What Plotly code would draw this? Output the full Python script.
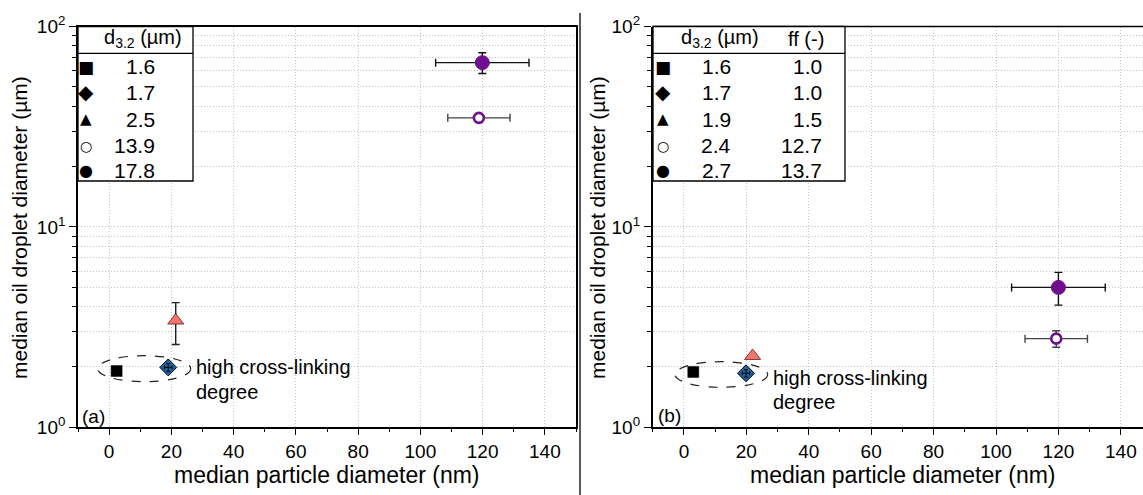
import plotly.graph_objects as go

W, H = 1143, 495

# ---------------- data ----------------
names = ["square", "diamond", "triangle", "open circle", "filled circle"]

# panel (a)
a_x = [2.4, 19.0, 21.4, 118.8, 119.9]
a_y = [1.91, 1.99, 3.41, 35.0, 66.0]
a_xerr = [0.0, 1.2, 0.0, 10.0, 15.0]
a_yerr_plus = [0.0, 0.09, 0.78, 1.6, 8.0]
a_yerr_minus = [0.0, 0.09, 0.82, 1.6, 7.7]
a_d32 = ["1.6", "1.7", "2.5", "13.9", "17.8"]

# panel (b)
b_x = [3.0, 19.9, 22.0, 119.3, 120.0]
b_y = [1.89, 1.86, 2.27, 2.77, 4.99]
b_xerr = [0.0, 1.2, 0.0, 10.0, 15.0]
b_yerr_plus = [0.0, 0.08, 0.0, 0.26, 0.94]
b_yerr_minus = [0.0, 0.08, 0.0, 0.26, 0.92]
b_d32 = ["1.6", "1.7", "1.9", "2.4", "2.7"]
b_ff = ["1.0", "1.0", "1.5", "12.7", "13.7"]

x_ticks = [0, 20, 40, 60, 80, 100, 120, 140]
x_minor = [-10, 10, 30, 50, 70, 90, 110, 130, 150]
y_ticks = [1, 10, 100]
y_ticktext = ["10<sup>0</sup>", "10<sup>1</sup>", "10<sup>2</sup>"]
y_minor = [v * m for m in (1, 10) for v in range(2, 10)]

# ---------------- styles ----------------
PURPLE = "#6e0f8e"
SALMON = "#f4756b"
BLUE = "#1b66a2"
FONT = "Liberation Sans, Arial, sans-serif"
GRID = "#c4c4c4"

styles = [
    dict(symbol="square", size=11, color="black", line=dict(color="black", width=0.5)),
    dict(symbol="diamond", size=13, color=BLUE, line=dict(color="black", width=1)),
    dict(symbol="triangle-up", size=14, color=SALMON, line=dict(color="#5a1a14", width=0.8)),
    dict(symbol="circle", size=10, color="white", line=dict(color=PURPLE, width=2.6)),
    dict(symbol="circle", size=14, color=PURPLE, line=dict(color=PURPLE, width=1)),
]
err_colors = ["black", "black", "#222222", "#444444", "#111111"]


def px(x):
    return x / W


def py(y):
    return 1 - y / H


fig = go.Figure()


def add_panel(xs, ys, xerr, ypl, ymi, xa, ya):
    for i in range(len(xs)):
        ec = err_colors[i]
        has_x = xerr[i] > 0
        has_y = ypl[i] > 0 or ymi[i] > 0
        overlay = (i == 1)  # diamond: error cross drawn over marker
        fig.add_trace(go.Scatter(
            x=[xs[i]], y=[ys[i]], mode="markers", name=names[i],
            marker=styles[i], xaxis=xa, yaxis=ya, showlegend=False,
            error_x=dict(type="data", array=[xerr[i]], visible=has_x and not overlay,
                         color=ec, thickness=1.4, width=4),
            error_y=dict(type="data", symmetric=False, array=[ypl[i]], arrayminus=[ymi[i]],
                         visible=has_y and not overlay, color=ec, thickness=1.4, width=4),
        ))
        if overlay:
            fig.add_trace(go.Scatter(
                x=[xs[i]], y=[ys[i]], mode="markers", marker=dict(size=1, opacity=0),
                xaxis=xa, yaxis=ya, showlegend=False, hoverinfo="skip",
                error_x=dict(type="data", array=[xerr[i]], color="black", thickness=1, width=2),
                error_y=dict(type="data", symmetric=False, array=[ypl[i]], arrayminus=[ymi[i]],
                             color="black", thickness=1, width=2),
            ))


add_panel(a_x, a_y, a_xerr, a_yerr_plus, a_yerr_minus, "x", "y")
add_panel(b_x, b_y, b_xerr, b_yerr_plus, b_yerr_minus, "x2", "y2")

Y_TOP, Y_BOT = 26.5, 427.3
xa_common = dict(
    tickmode="array", tickvals=x_ticks, ticks="outside", ticklen=6, tickwidth=1.3,
    tickcolor="black", showline=True, linecolor="black", linewidth=1.6,
    showgrid=True, gridcolor=GRID, griddash="1px,2px", gridwidth=1,
    zeroline=False, tickfont=dict(family=FONT, size=19, color="black"),
    minor=dict(tickmode="array", tickvals=x_minor, ticks="outside", ticklen=3,
               tickwidth=1.2, tickcolor="black", showgrid=False),
    automargin=False, fixedrange=True,
)
ya_common = dict(
    type="log", range=[0, 2], tickmode="array", tickvals=y_ticks, ticktext=y_ticktext,
    ticks="outside", ticklen=7, tickwidth=1.3, tickcolor="black",
    showline=True, linecolor="black", linewidth=1.6,
    showgrid=True, gridcolor=GRID, griddash="1px,2px", gridwidth=1,
    zeroline=False, tickfont=dict(family=FONT, size=19, color="black"),
    minor=dict(tickmode="array", tickvals=y_minor, ticks="outside", ticklen=4,
               tickwidth=1.2, tickcolor="black", showgrid=True,
               gridcolor=GRID, griddash="1px,2px", gridwidth=1),
    automargin=False, fixedrange=True,
)

fig.update_layout(
    width=W, height=H, margin=dict(l=0, r=0, t=0, b=0),
    paper_bgcolor="white", plot_bgcolor="white",
    font=dict(family=FONT, color="black"),
    xaxis=dict(**xa_common, range=[-10, 150], domain=[px(78), px(576)], anchor="y", mirror=True),
    yaxis=dict(**ya_common, domain=[py(Y_BOT), py(Y_TOP)], anchor="x", mirror=True),
    xaxis2=dict(**xa_common, range=[-10, 147.1], domain=[px(652.7), 1.0], anchor="y2", mirror=False),
    yaxis2=dict(**ya_common, domain=[py(Y_BOT), py(Y_TOP)], anchor="x2", mirror=False),
)

shapes = []
ann = []

# separator
shapes.append(dict(type="line", xref="paper", yref="paper", x0=px(580), x1=px(580),
                   y0=py(13), y1=0, line=dict(color="black", width=1.3)))
# top border of the right panel
shapes.append(dict(type="line", xref="paper", yref="paper", x0=px(652.7), x1=1.0,
                   y0=py(Y_TOP), y1=py(Y_TOP), line=dict(color="black", width=1.6)))

# legend tables
for (x0, x1) in [(78, 193), (653, 845)]:
    shapes.append(dict(type="rect", xref="paper", yref="paper", x0=px(x0), x1=px(x1),
                       y0=py(181), y1=py(Y_TOP), line=dict(color="black", width=1.3),
                       fillcolor="white", layer="above"))
    shapes.append(dict(type="line", xref="paper", yref="paper", x0=px(x0), x1=px(x1),
                       y0=py(53.3), y1=py(53.3), line=dict(color="black", width=1.3), layer="above"))

# ellipses
for (x0, x1, y0, y1) in [(97.7, 190.7, 355.7, 381.7), (675, 767.7, 361.7, 387.3)]:
    shapes.append(dict(type="circle", xref="paper", yref="paper", x0=px(x0), x1=px(x1),
                       y0=py(y1), y1=py(y0), line=dict(color="#222222", width=1.2, dash="dash")))

row_y = [66.7, 92.5, 119.3, 145.5, 170.5]
glyphs = ["■", "◆", "▲", "○", "●"]
gsize = [17, 20, 15, 14, 16]


def txt(x, y, s, size=20, xanchor="center", textangle=0):
    ann.append(dict(xref="paper", yref="paper", x=px(x), y=py(y), text=s, showarrow=False,
                    xanchor=xanchor, yanchor="middle", textangle=textangle,
                    font=dict(family=FONT, size=size, color="black")))


# left legend
txt(143, 39, "d<sub>3.2</sub> (µm)", 20)
for i in range(5):
    ann.append(dict(xref="paper", yref="paper", x=px(86), y=py(row_y[i]), text=glyphs[i],
                    showarrow=False, xanchor="center", yanchor="middle",
                    font=dict(family="DejaVu Sans", size=gsize[i], color="black")))
    txt(157, row_y[i], a_d32[i], 21, "right")

# right legend
txt(720, 39, "d<sub>3.2</sub> (µm)", 20)
txt(806, 39, "ff (-)", 20)
for i in range(5):
    ann.append(dict(xref="paper", yref="paper", x=px(662.5), y=py(row_y[i]), text=glyphs[i],
                    showarrow=False, xanchor="center", yanchor="middle",
                    font=dict(family="DejaVu Sans", size=gsize[i], color="black")))
    txt(733, row_y[i], b_d32[i], 21, "right")
    txt(824, row_y[i], b_ff[i], 21, "right")

# panel labels
txt(80, 416.5, "(a)", 19, "left")
txt(655.5, 415, "(b)", 19, "left")

# annotations
txt(194, 367.3, "high cross-linking", 20, "left")
txt(194, 391.7, "degree", 20, "left")
txt(771, 378.3, "high cross-linking", 20, "left")
txt(771, 401.7, "degree", 20, "left")

# axis titles
txt(327, 475, "median particle diameter (nm)", 23)
txt(903, 475, "median particle diameter (nm)", 23)
txt(19, 228, "median oil droplet diameter (µm)", 21, "center", -90)
txt(597, 228, "median oil droplet diameter (µm)", 21, "center", -90)

fig.update_layout(shapes=shapes, annotations=ann)
fig.write_html(
    "out.html",
    config={"displayModeBar": False},
    post_script="document.body.style.margin='0';document.body.style.overflow='hidden';",
)
